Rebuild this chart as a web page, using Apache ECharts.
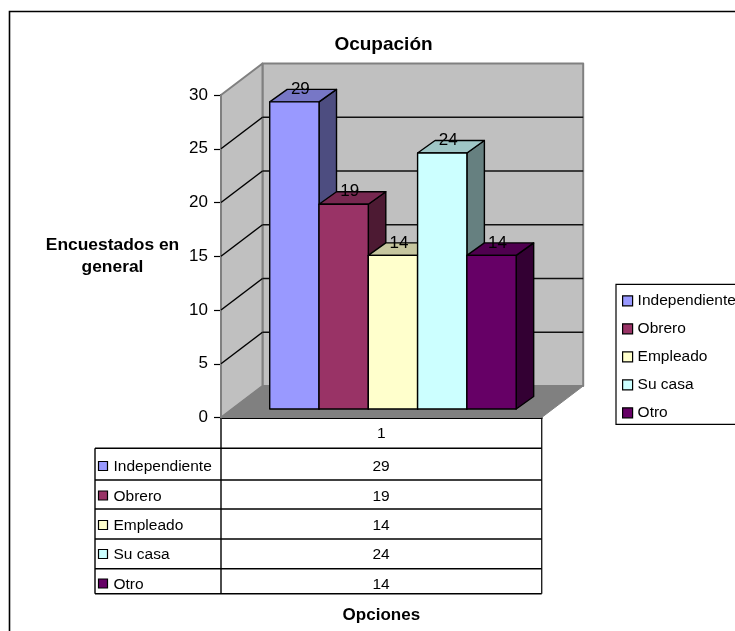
<!DOCTYPE html>
<html>
<head>
<meta charset="utf-8">
<style>html,body{margin:0;padding:0;background:#fff}#c{width:735px;height:631px}</style>
<script src="https://cdn.jsdelivr.net/npm/echarts@6/dist/echarts.min.js"></script>
</head>
<body>
<div id="c"></div>
<script>
var categories = ['1'];
var seriesNames = ['Independiente', 'Obrero', 'Empleado', 'Su casa', 'Otro'];
var seriesValues = [28.57, 19.05, 14.29, 23.81, 14.29];
var frontColors = ['#9999FF', '#993366', '#FFFFCC', '#CCFFFF', '#660066'];
var topColors = ['#7777C6', '#772850', '#C6C69F', '#9FC6C6', '#4F004F'];
var sideColors = ['#4D4D80', '#4D1A33', '#808066', '#668080', '#330033'];
var yTicks = [0, 5, 10, 15, 20, 25, 30];

var FONT = '"Liberation Sans", Arial, sans-serif';
var WALL = {dx: 41.5, dy: 31.5};
var BAR = {offX: 11.2, offY: 8.5, dx: 17.5, dy: 12.5, share: 0.1537};

function poly(points, fill, stroke, lw) {
  return {type: 'polygon', silent: true, shape: {points: points},
    style: {fill: fill, stroke: stroke, lineWidth: lw, lineJoin: 'round'}};
}
function seg(x1, y1, x2, y2, stroke, lw) {
  return {type: 'line', silent: true, shape: {x1: x1, y1: y1, x2: x2, y2: y2},
    style: {stroke: stroke, lineWidth: lw}};
}

function renderWalls(params, api) {
  var band = api.size([1, 0])[0];
  var p0 = api.coord([0, 0]), p30 = api.coord([0, 30]);
  var L = p0[0] - band / 2, R = p0[0] + band / 2, B = p0[1], T = p30[1];
  var dx = WALL.dx, dy = WALL.dy;
  var kids = [
    poly([[L + dx, T - dy], [R + dx, T - dy], [R + dx, B - dy], [L + dx, B - dy]], '#C0C0C0', '#808080', 2),
    poly([[L, T], [L + dx, T - dy], [L + dx, B - dy], [L, B]], '#C0C0C0', '#808080', 2),
    poly([[L, B], [L + dx, B - dy], [R + dx, B - dy], [R, B]], '#808080', '#808080', 1)
  ];
  yTicks.forEach(function (t) {
    if (t === 0 || t === 30) return;
    var y = api.coord([0, t])[1];
    kids.push(seg(L, y, L + dx, y - dy, '#000', 1.5));
    kids.push(seg(L + dx, y - dy, R + dx, y - dy, '#111', 1.5));
  });
  return {type: 'group', children: kids};
}

function renderBar(idx) {
  return function (params, api) {
    var band = api.size([1, 0])[0];
    var w = band * BAR.share;
    var val = api.value(1);
    var c = api.coord([0, 0]), t = api.coord([0, val]);
    var x0 = c[0] + (idx - seriesNames.length / 2) * w + BAR.offX + 0.4;
    var x1 = x0 + w;
    var yb = c[1] - BAR.offY, yt = t[1] - BAR.offY;
    var dx = BAR.dx, dy = BAR.dy;
    return {type: 'group', children: [
      poly([[x1, yt], [x1 + dx, yt - dy], [x1 + dx, yb - dy], [x1, yb]], sideColors[idx], '#000', 1.4),
      poly([[x0, yt], [x0 + dx, yt - dy], [x1 + dx, yt - dy], [x1, yt]], topColors[idx], '#000', 1.4),
      poly([[x0, yt], [x1, yt], [x1, yb], [x0, yb]], frontColors[idx], '#000', 1.4),
      {type: 'text', silent: true, z2: 50, style: {
        text: String(Math.round(val)), x: x0 + w / 2 + 6, y: yt - 12.5,
        fill: '#000', font: '17px ' + FONT, align: 'center', verticalAlign: 'middle'}}
    ]};
  };
}

var series = [{
  type: 'custom', name: 'walls', z: 1, silent: true,
  renderItem: renderWalls, data: [[0, 0]], encode: {x: 0, y: 1}
}];
seriesNames.forEach(function (name, i) {
  series.push({
    type: 'custom', name: name, z: 2 + i, silent: true,
    itemStyle: {color: frontColors[i]},
    renderItem: renderBar(i), data: [[0, seriesValues[i]]], encode: {x: 0, y: 1}
  });
});

// data table below the plot
var tbl = {left: 95, mid: 221, right: 541.7, top: 448.3,
  lines: [448.3, 480, 509, 539, 568.7, 593.7],
  centers: [467, 496.5, 526, 555, 584.5]};
var graphics = [
  {type: 'polyline', silent: true, shape: {points: [[9.5, 631], [9.5, 11.5], [735, 11.5]]},
    style: {stroke: '#000', lineWidth: 1.6, fill: null}},
  {type: 'line', silent: true, shape: {x1: tbl.mid, y1: 417.5, x2: tbl.mid, y2: tbl.lines[5]}, style: {stroke: '#000', lineWidth: 1.4}},
  {type: 'line', silent: true, shape: {x1: tbl.right, y1: 417.5, x2: tbl.right, y2: tbl.lines[5]}, style: {stroke: '#222', lineWidth: 1.4}},
  {type: 'line', silent: true, shape: {x1: tbl.left, y1: tbl.top, x2: tbl.left, y2: tbl.lines[5]}, style: {stroke: '#000', lineWidth: 1.4}}
];
tbl.lines.forEach(function (y) {
  graphics.push({type: 'line', silent: true, shape: {x1: tbl.left, y1: y, x2: tbl.right, y2: y}, style: {stroke: '#000', lineWidth: 1.4}});
});
seriesNames.forEach(function (name, i) {
  var cy = tbl.centers[i];
  graphics.push({type: 'rect', silent: true, shape: {x: 98.5, y: cy - 5.5, width: 9, height: 9},
    style: {fill: frontColors[i], stroke: '#000', lineWidth: 1.2}});
  graphics.push({type: 'text', silent: true, style: {text: name, x: 113.5, y: cy, fill: '#000',
    font: '15.5px ' + FONT, align: 'left', verticalAlign: 'middle'}});
  graphics.push({type: 'text', silent: true, style: {text: String(Math.round(seriesValues[i])), x: 381, y: cy, fill: '#000',
    font: '15.5px ' + FONT, align: 'center', verticalAlign: 'middle'}});
});

var chart = echarts.init(document.getElementById('c'), null, {renderer: 'canvas'});
chart.setOption({
  animation: false,
  backgroundColor: '#fff',
  title: {
    text: 'Ocupación', left: 378.5, top: 30, textAlign: 'center',
    textStyle: {fontFamily: FONT, fontSize: 19, fontWeight: 'bold', color: '#000'}
  },
  legend: {
    left: 616, top: 284.3, orient: 'vertical', data: seriesNames,
    itemWidth: 10, itemHeight: 10, itemGap: 12, selectedMode: false,
    padding: [8.5, 6, 3.5, 6],
    borderColor: '#000', borderWidth: 1.2, backgroundColor: '#fff',
    itemStyle: {borderColor: '#000', borderWidth: 1.2},
    icon: 'rect',
    textStyle: {fontFamily: FONT, fontSize: 15.5, color: '#000'}
  },
  grid: {left: 221, top: 95, width: 320.7, height: 322.5, containLabel: false},
  xAxis: {
    type: 'category', data: categories,
    name: 'Opciones', nameLocation: 'middle', nameGap: 189,
    nameTextStyle: {fontFamily: FONT, fontSize: 17, fontWeight: 'bold', color: '#000'},
    axisLine: {show: true, lineStyle: {color: '#000', width: 2}},
    axisTick: {show: false},
    axisLabel: {margin: 8, fontFamily: FONT, fontSize: 15.5, color: '#000'},
    splitLine: {show: false}
  },
  yAxis: {
    type: 'value', min: 0, max: 30, interval: 5,
    name: 'Encuestados en\ngeneral', nameLocation: 'middle', nameRotate: 0, nameGap: 108.5,
    nameTextStyle: {fontFamily: FONT, fontSize: 17.4, fontWeight: 'bold', color: '#000', align: 'center', lineHeight: 22},
    axisLine: {show: true, lineStyle: {color: '#000', width: 1.8}},
    axisTick: {show: true, length: 7, lineStyle: {color: '#000', width: 1.2}},
    axisLabel: {margin: 13, fontFamily: FONT, fontSize: 17, color: '#000'},
    splitLine: {show: false}
  },
  graphic: {elements: graphics},
  series: series
});
</script>
</body>
</html>
